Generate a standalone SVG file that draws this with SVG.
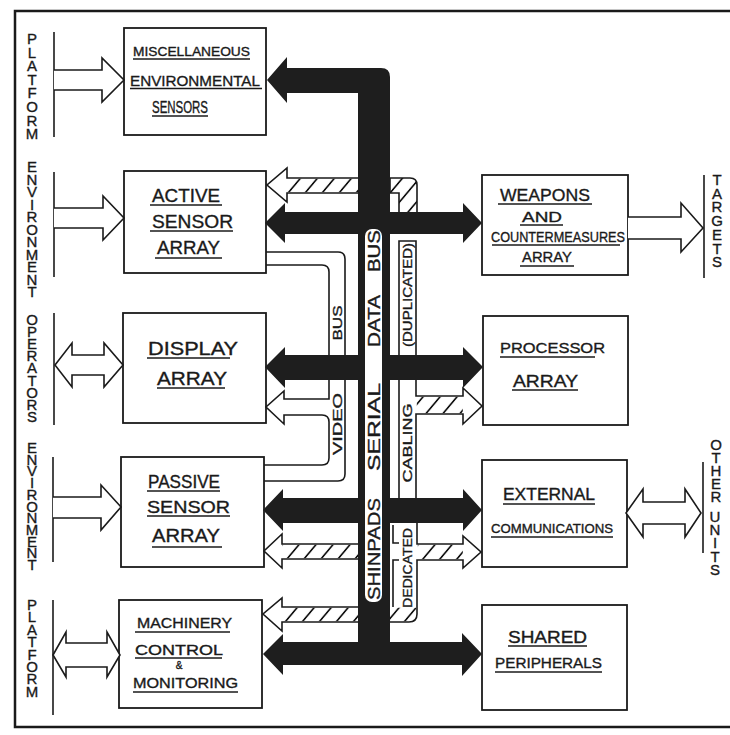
<svg xmlns="http://www.w3.org/2000/svg" width="730" height="735" viewBox="0 0 730 735">
<defs>
<style>
.frame{fill:none;stroke:#1a1a1a;stroke-width:2.5}
.box{fill:#fff;stroke:#1a1a1a;stroke-width:1.8}
.ln{fill:none;stroke:#1a1a1a;stroke-width:1.6}
.hol{fill:#fff;stroke:#1a1a1a;stroke-width:1.6;stroke-linejoin:miter}
.blk{fill:#1e1e1e}
.ul{stroke:#1a1a1a;stroke-width:1.4}
text{font-family:"Liberation Sans",Arial,sans-serif;fill:#1a1a1a;stroke:#1a1a1a;stroke-width:0.35}
.side{font-size:15px;text-anchor:middle}
.bt{font-size:17px}
.vt{text-anchor:middle}
</style>
<pattern id="hatch" patternUnits="userSpaceOnUse" width="17" height="20" patternTransform="skewX(-40)">
<line x1="8" y1="0" x2="8" y2="20" stroke="#111" stroke-width="2.2"/>
</pattern>
</defs>
<rect width="730" height="735" fill="#fff"/>
<path class="frame" d="M730,11 H15 V727 H730"/>

<!-- side labels -->
<g id="platform-top">
<line class="ln" x1="54" y1="32" x2="54" y2="137"/>
<text class="side" x="32 32 32 32 32 32 32 32" y="44 58 71 85 98 112 126 139">PLATFORM</text>
</g>
<g id="environment-top">
<line class="ln" x1="54" y1="172" x2="54" y2="277"/>
<text class="side" x="32 32 32 32 32 32 32 32 32 32 32" y="172 184.5 197 209.5 222 234.5 247 259.5 272 284.5 297">ENVIRONMENT</text>
</g>
<g id="operators">
<line class="ln" x1="54" y1="313" x2="54" y2="425"/>
<text class="side" x="32 32 32 32 32 32 32 32 32" y="325 337 349 361 373 386 398 410 422">OPERATORS</text>
</g>
<g id="environment-bottom">
<line class="ln" x1="53" y1="457" x2="53" y2="562"/>
<text class="side" x="32 32 32 32 32 32 32 32 32 32 32" y="453 465 476 488 500 512 523 535 547 558 570">ENVIRONMENT</text>
</g>
<g id="platform-bottom">
<line class="ln" x1="53" y1="600" x2="53" y2="715"/>
<text class="side" x="32 32 32 32 32 32 32 32" y="610 622 635 647 660 672 684 697">PLATFORM</text>
</g>
<g id="targets">
<line class="ln" x1="704" y1="175" x2="704" y2="278"/>
<text class="side" x="717 717 717 717 717 717 717" y="185 199 212 226 240 254 267">TARGETS</text>
</g>
<g id="other-units">
<line class="ln" x1="703" y1="462" x2="703" y2="553"/>
<text class="side" x="716 716 716 716 716 715 715 715 715 715" y="450 463 476 489 502 522 535 548 562 575">OTHERUNITS</text>
</g>

<!-- boxes -->
<g id="misc-sensors">
<rect class="box" x="124" y="28" width="142" height="107"/>
<text x="133" y="56" font-size="13" textLength="117" lengthAdjust="spacingAndGlyphs">MISCELLANEOUS</text>
<line class="ul" x1="133" y1="59" x2="250" y2="59"/>
<text x="130" y="86" font-size="15" textLength="130" lengthAdjust="spacingAndGlyphs">ENVIRONMENTAL</text>
<line class="ul" x1="130" y1="88.5" x2="262" y2="88.5"/>
<text x="152" y="113" font-size="16" textLength="56" lengthAdjust="spacingAndGlyphs">SENSORS</text>
<line class="ul" x1="152" y1="116" x2="208" y2="116"/>
</g>
<g id="active-sensor">
<rect class="box" x="124" y="171" width="142" height="102"/>
<text x="152" y="202" font-size="19" textLength="68" lengthAdjust="spacingAndGlyphs">ACTIVE</text>
<line class="ul" x1="150" y1="205" x2="222" y2="205"/>
<text x="152" y="228" font-size="19" textLength="81" lengthAdjust="spacingAndGlyphs">SENSOR</text>
<line class="ul" x1="150" y1="231" x2="233" y2="231"/>
<text x="157" y="254" font-size="19" textLength="63" lengthAdjust="spacingAndGlyphs">ARRAY</text>
<line class="ul" x1="155" y1="258" x2="222" y2="258"/>
</g>
<g id="display">
<rect class="box" x="123" y="313" width="143" height="110"/>
<text x="148" y="355" font-size="18" textLength="90" lengthAdjust="spacingAndGlyphs">DISPLAY</text>
<line class="ul" x1="147" y1="358" x2="230" y2="358"/>
<text x="157" y="385" font-size="18" textLength="70" lengthAdjust="spacingAndGlyphs">ARRAY</text>
<line class="ul" x1="157" y1="388" x2="225" y2="388"/>
</g>
<g id="passive-sensor">
<rect class="box" x="121" y="457" width="143" height="110"/>
<text x="148" y="488" font-size="18" textLength="72" lengthAdjust="spacingAndGlyphs">PASSIVE</text>
<line class="ul" x1="147" y1="491" x2="220" y2="491"/>
<text x="147" y="513" font-size="17" textLength="83" lengthAdjust="spacingAndGlyphs">SENSOR</text>
<line class="ul" x1="147" y1="516" x2="230" y2="516"/>
<text x="152" y="542" font-size="18" textLength="68" lengthAdjust="spacingAndGlyphs">ARRAY</text>
<line class="ul" x1="152" y1="547" x2="222" y2="547"/>
</g>
<g id="machinery">
<rect class="box" x="119" y="600" width="143" height="108"/>
<text x="137" y="628" font-size="15" textLength="95" lengthAdjust="spacingAndGlyphs">MACHINERY</text>
<line class="ul" x1="135" y1="632" x2="230" y2="632"/>
<text x="135" y="655" font-size="15" textLength="88" lengthAdjust="spacingAndGlyphs">CONTROL</text>
<line class="ul" x1="135" y1="658" x2="222" y2="658"/>
<text x="179" y="669" font-size="10" text-anchor="middle">&amp;</text>
<text x="133" y="688" font-size="15" textLength="105" lengthAdjust="spacingAndGlyphs">MONITORING</text>
<line class="ul" x1="133" y1="692" x2="238" y2="692"/>
</g>
<g id="weapons">
<rect class="box" x="482" y="175" width="146" height="100"/>
<text x="500" y="201" font-size="17" textLength="90" lengthAdjust="spacingAndGlyphs">WEAPONS</text>
<line class="ul" x1="498" y1="204" x2="592" y2="204"/>
<text x="522" y="222" font-size="15" textLength="40" lengthAdjust="spacingAndGlyphs">AND</text>
<line class="ul" x1="520" y1="225" x2="563" y2="225"/>
<text x="491" y="242" font-size="15" textLength="134" lengthAdjust="spacingAndGlyphs">COUNTERMEASURES</text>
<line class="ul" x1="492" y1="245" x2="620" y2="245"/>
<text x="522" y="262" font-size="15" textLength="50" lengthAdjust="spacingAndGlyphs">ARRAY</text>
<line class="ul" x1="520" y1="266" x2="574" y2="266"/>
</g>
<g id="processor">
<rect class="box" x="483" y="316" width="145" height="109"/>
<text x="500" y="353" font-size="15" textLength="105" lengthAdjust="spacingAndGlyphs">PROCESSOR</text>
<line class="ul" x1="500" y1="357" x2="595" y2="357"/>
<text x="513" y="387" font-size="17" textLength="65" lengthAdjust="spacingAndGlyphs">ARRAY</text>
<line class="ul" x1="512" y1="390" x2="578" y2="390"/>
</g>
<g id="external-comms">
<rect class="box" x="482" y="460" width="145" height="107"/>
<text x="503" y="500" font-size="16" textLength="92" lengthAdjust="spacingAndGlyphs">EXTERNAL</text>
<line class="ul" x1="503" y1="504" x2="595" y2="504"/>
<text x="491" y="533" font-size="13" textLength="122" lengthAdjust="spacingAndGlyphs">COMMUNICATIONS</text>
<line class="ul" x1="491" y1="537" x2="613" y2="537"/>
</g>
<g id="shared-peripherals">
<rect class="box" x="482" y="605" width="145" height="105"/>
<text x="508" y="643" font-size="16" textLength="79" lengthAdjust="spacingAndGlyphs">SHARED</text>
<line class="ul" x1="508" y1="646" x2="587" y2="646"/>
<text x="495" y="668" font-size="15" textLength="107" lengthAdjust="spacingAndGlyphs">PERIPHERALS</text>
<line class="ul" x1="495" y1="672" x2="602" y2="672"/>
</g>

<g id="connectors">
<!-- hollow external arrows -->
<path class="hol" d="M54,70 H102 V58 L124,80 L102,102 V90 H54"/>
<path class="hol" d="M54,208 H103 V196 L124,218 L103,240 V228 H54"/>
<path class="hol" d="M55,365 L72,343 V355 H104 V343 L123,365 L104,387 V375 H72 V387 Z"/>
<path class="hol" d="M53,497 H101 V485 L121,507 L101,530 V518 H53"/>
<path class="hol" d="M53,655 L66,632 V643 H107 V632 L120,655 L107,677 V667 H66 V677 Z"/>
<path class="hol" d="M628,217 H681 V203 L703,228 L681,252 V239 H628"/>
<path class="hol" d="M626,513 L643,489 V502 H685 V489 L701,513 L685,537 V524 H643 V537 Z"/>

<!-- video bus channel -->
<path class="ln" d="M266,252 H338 Q345,252 345,259 V474 Q345,481 338,481 H264"/>
<path class="ln" d="M266,265 H322 Q329,265 329,272 V399 H284 V391 L266,407 L284,424 V415 H322 Q329,415 329,422 V458 Q329,465 322,465 H264"/>
<text class="vt" font-size="13" transform="translate(337,323) rotate(-90)" y="4.6" textLength="35" lengthAdjust="spacingAndGlyphs">BUS</text>
<text class="vt" font-size="13" transform="translate(337,424) rotate(-90)" y="4.6" textLength="62" lengthAdjust="spacingAndGlyphs">VIDEO</text>

<!-- dedicated cabling, left hatched arrows -->
<path class="hol" d="M358,178 H287 V168 L267,185 L287,202 V193 H358"/>
<rect x="287" y="178.8" width="71" height="13.4" fill="url(#hatch)"/>
<path class="hol" d="M358,544 H282 V534 L264,551 L282,568 V559 H358"/>
<rect x="282" y="544.8" width="76" height="13.4" fill="url(#hatch)"/>
<path class="hol" d="M358,607 H282 V598 L263,614 L282,631 V622 H358"/>
<rect x="282" y="607.8" width="76" height="13.4" fill="url(#hatch)"/>

<!-- dedicated cabling, right channel -->
<path d="M390,178 H410 Q417,178 417,185 V214 H399 V193 H390 Z" fill="url(#hatch)" stroke="#1a1a1a" stroke-width="1.6"/>
<path class="ln" d="M399,356 V241 H416 V356"/>
<path class="ln" d="M399,380 V498"/>
<path class="ln" d="M416,380 V396 H463 V388 L482,406 L463,424 V414 H416 V498"/>
<rect x="416.8" y="396.8" width="46" height="16.4" fill="url(#hatch)"/>
<path class="ln" d="M393,525 V543 H399"/>
<path class="ln" d="M399,560 H393 V607"/>
<path class="ln" d="M417,523 V544 H463 V536 L481,552 L463,568 V560 H417 V614 Q417,622 409,622 H390"/>
<rect x="417.8" y="544.8" width="45" height="14.4" fill="url(#hatch)"/>
<path d="M390,607.8 H416.2 V614 Q416.2,621.2 409,621.2 H390 Z" fill="url(#hatch)"/>
<text class="vt" font-size="12" transform="translate(407.5,295) rotate(-90)" y="4.3" textLength="104" lengthAdjust="spacingAndGlyphs">(DUPLICATED)</text>
<text class="vt" font-size="13" transform="translate(407.5,443) rotate(-90)" y="4.6" textLength="79" lengthAdjust="spacingAndGlyphs">CABLING</text>
<text class="vt" font-size="12" transform="translate(407.5,568) rotate(-90)" y="4.3" textLength="80" lengthAdjust="spacingAndGlyphs">DEDICATED</text>

<!-- serial data bus -->
<path class="blk" d="M267,80 L287,57 V68 H381 Q390,68 390,77 V660 H358 V93 H287 V103 Z"/>
<path class="blk" d="M265,223 L285,203 V212 H463 V203 L482,223 L463,243 V234 H285 V243 Z"/>
<path class="blk" d="M265,367 L285,347 V355 H463 V347 L483,367 L463,388 V380 H285 V388 Z"/>
<path class="blk" d="M263,510 L283,489 V498 H463 V489 L482,510 L463,531 V523 H283 V531 Z"/>
<path class="blk" d="M263,654 L283,634 V642 H462 V633 L482,654 L462,676 V665 H283 V675 Z"/>
<rect x="365" y="229" width="17" height="373" rx="7" fill="#fff"/>
<text class="vt bt" transform="translate(373.5,251) rotate(-90)" y="6" textLength="42" lengthAdjust="spacingAndGlyphs">BUS</text>
<text class="vt bt" transform="translate(373.5,321) rotate(-90)" y="6" textLength="52" lengthAdjust="spacingAndGlyphs">DATA</text>
<text class="vt bt" transform="translate(373.5,427) rotate(-90)" y="6" textLength="88" lengthAdjust="spacingAndGlyphs">SERIAL</text>
<text class="vt bt" transform="translate(373.5,549) rotate(-90)" y="6" textLength="102" lengthAdjust="spacingAndGlyphs">SHINPADS</text>
</g>
</svg>
